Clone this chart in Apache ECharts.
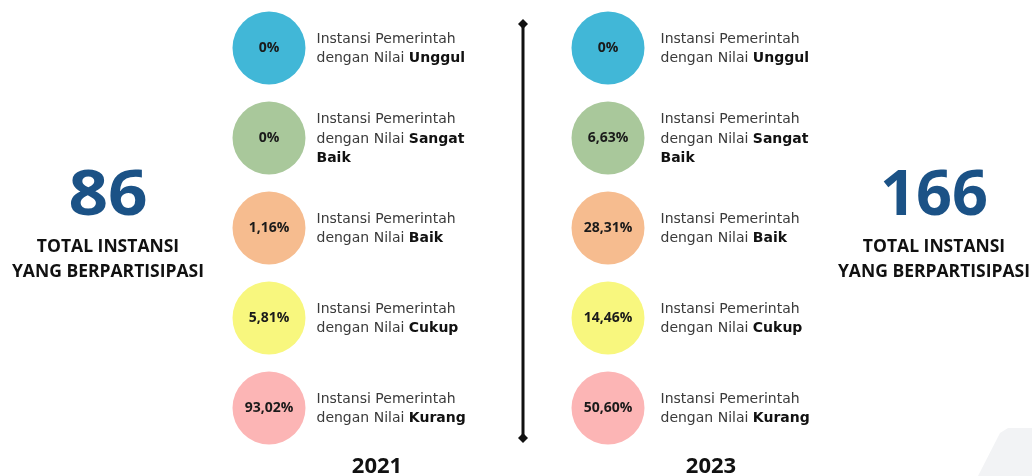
<!DOCTYPE html>
<html>
<head>
<meta charset="utf-8">
<script src="https://cdn.jsdelivr.net/npm/echarts@6/dist/echarts.min.js"></script>
<style>
html,body{margin:0;padding:0;background:#fff;}
#c{width:1032px;height:476px;}
</style>
</head>
<body>
<div id="c"></div>
<script>
const categories = ['Unggul', 'Sangat Baik', 'Baik', 'Cukup', 'Kurang'];
const pct2021 = [0, 0, 1.16, 5.81, 93.02];
const pct2023 = [0, 6.63, 28.31, 14.46, 50.60];
const years = ['2021', '2023'];
const totals = [86, 166];
const totalLabel = ['TOTAL INSTANSI', 'YANG BERPARTISIPASI'];
const colors = ['#41b7d7', '#a9c89b', '#f6bc8f', '#f8f77e', '#fcb5b5'];

const FONT = '"Open Sans", sans-serif';
const DFONT = '"DejaVu Sans", sans-serif';
const chart = echarts.init(document.getElementById('c'));

function fmtPct(v) {
  return v === 0 ? '0%' : v.toFixed(2).replace('.', ',') + '%';
}
function descLabel(cat) {
  const parts = cat.split(' ');
  let s = '{n|Instansi Pemerintah}\n{n|dengan Nilai }{b|' + parts[0] + '}';
  if (parts.length > 1) s += '\n{b|' + parts.slice(1).join(' ') + '}';
  return s;
}

const grids = [
  { left: 222, width: 94, top: 3, height: 450 },
  { left: 561, width: 94, top: 3, height: 450 }
];
const xAxes = grids.map((g, i) => ({ gridIndex: i, type: 'value', min: -1, max: 1, show: false }));
const yAxes = grids.map((g, i) => ({ gridIndex: i, type: 'category', data: categories, inverse: true, show: false }));

const series = [];
[pct2021, pct2023].forEach((vals, i) => {
  series.push({
    type: 'scatter', xAxisIndex: i, yAxisIndex: i,
    symbolSize: 73, silent: true,
    data: vals.map((v, k) => ({ value: [0, categories[k]], pct: v, itemStyle: { color: colors[k], opacity: 1 } })),
    label: {
      show: true, position: 'inside',
      formatter: p => fmtPct(p.data.pct),
      fontFamily: FONT, fontWeight: 'bold', fontSize: 14, color: '#1a1a1a'
    }
  });
  series.push({
    type: 'scatter', xAxisIndex: i, yAxisIndex: i,
    symbolSize: 1, silent: true, itemStyle: { color: 'rgba(0,0,0,0)', opacity: 1 },
    data: categories.map(c => ({ value: [1, c] })),
    label: {
      show: true, position: 'right', distance: i === 0 ? 0 : 5, offset: [0, 1],
      formatter: p => descLabel(p.value[1]),
      rich: {
        n: { fontFamily: DFONT, fontSize: 14, color: '#3a3a3a', lineHeight: 19.5 },
        b: { fontFamily: DFONT, fontSize: 14, fontWeight: 'bold', color: '#111', lineHeight: 19.5 }
      }
    }
  });
});

const graphic = [
  { type: 'polygon', silent: true, z: -10,
    shape: { points: [[1008, 428], [1032, 428], [1032, 476], [978, 476], [1000, 433]], smooth: 0 },
    style: { fill: '#f2f3f5' } },
  { type: 'line', shape: { x1: 523, y1: 24, x2: 523, y2: 438 }, style: { stroke: '#111', lineWidth: 3 } },
  { type: 'polygon', shape: { points: [[523, 19], [528, 24], [523, 29], [518, 24]] }, style: { fill: '#111' } },
  { type: 'polygon', shape: { points: [[523, 433], [528, 438], [523, 443], [518, 438]] }, style: { fill: '#111' } }
];
const sideX = [108, 934];
const numScale = [1.1, 1.0];
totals.forEach((t, i) => {
  graphic.push({ type: 'text', x: sideX[i], y: 197, scaleX: numScale[i],
    style: { text: String(t), fontFamily: FONT, fontSize: 63, fontWeight: 'bold', fill: '#1b5286', align: 'center', verticalAlign: 'middle' } });
  totalLabel.forEach((s, k) => {
    graphic.push({ type: 'text', x: sideX[i], y: 247 + k * 25, scaleX: 1.03,
      style: { text: s, fontFamily: FONT, fontSize: 17, fontWeight: 'bold', fill: '#111', align: 'center', verticalAlign: 'middle' } });
  });
});
const yearX = [377, 711];
years.forEach((y, i) => {
  graphic.push({ type: 'text', x: yearX[i], y: 467,
    style: { text: y, fontFamily: FONT, fontSize: 22, fontWeight: 'bold', fill: '#111', align: 'center', verticalAlign: 'middle' } });
});

chart.setOption({
  animation: false,
  grid: grids,
  xAxis: xAxes,
  yAxis: yAxes,
  series: series,
  graphic: graphic
});
</script>
</body>
</html>
